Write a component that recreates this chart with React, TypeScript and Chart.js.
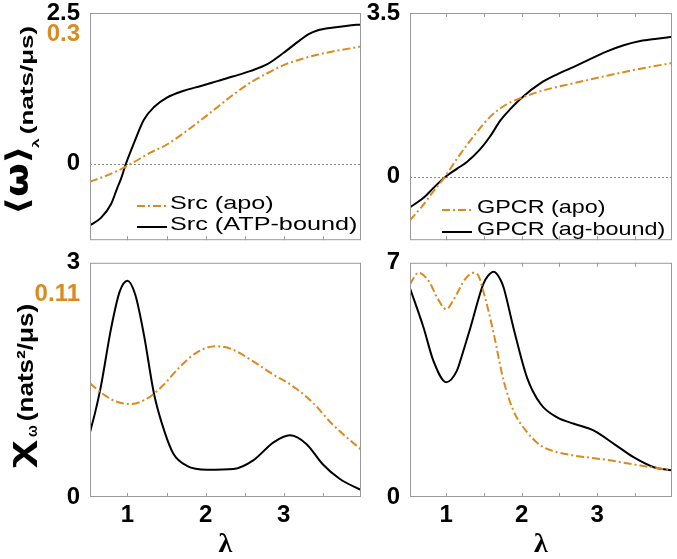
import React, { useEffect, useRef } from 'react';
import { Chart, registerables } from 'chart.js';

Chart.register(...registerables);

const ORANGE = '#DB8A1E';
const BLACK = '#000000';
const FRAME = '#9a9a9a';
const SANS = "'Liberation Sans', Arial, Helvetica, sans-serif";
const MATH = "'DejaVu Sans', 'Liberation Sans', sans-serif";
const SERIF = "'Liberation Serif', 'Times New Roman', serif";
const DASH_DOT = [8, 3, 2, 3];

// lambda axis
const LAMBDA_MIN = 0.52;
const LAMBDA_MAX = 3.99;
const xTickValues = [1, 2, 3];
const xMinorTicks = [1, 1.5, 2, 2.5, 3, 3.5];

// <omega>_lambda, Src
const srcApoMeanX = [0.52, 0.66, 0.87, 1.0, 1.3, 1.51, 1.72, 1.94, 2.15, 2.36, 2.58, 2.79, 3.0, 3.21, 3.43, 3.64, 3.99];
const srcApoMeanY = [-0.042, -0.033, -0.017, -0.005, 0.026, 0.045, 0.071, 0.101, 0.131, 0.161, 0.189, 0.21, 0.229, 0.242, 0.253, 0.261, 0.272];
const srcAtpMeanX = [0.52, 0.66, 0.79, 0.87, 0.92, 0.98, 1.085, 1.21, 1.34, 1.51, 1.72, 1.94, 2.15, 2.36, 2.58, 2.79, 3.0, 3.21, 3.32, 3.43, 3.64, 3.82, 3.99];
const srcAtpMeanY = [-1.02, -0.9, -0.67, -0.4, -0.24, 0.0, 0.35, 0.73, 0.94, 1.1, 1.21, 1.29, 1.37, 1.45, 1.54, 1.65, 1.84, 2.05, 2.15, 2.21, 2.26, 2.29, 2.31];

// <omega>_lambda, GPCR
const gpcrApoMeanX = [0.52, 0.7, 0.83, 0.97, 1.14, 1.36, 1.58, 1.8, 2.0, 2.25, 2.69, 3.13, 3.57, 3.99];
const gpcrApoMeanY = [-0.93, -0.59, -0.31, -0.03, 0.38, 0.86, 1.28, 1.55, 1.69, 1.83, 2.0, 2.16, 2.31, 2.43];
const gpcrAgMeanX = [0.52, 0.7, 0.83, 0.99, 1.14, 1.27, 1.45, 1.58, 1.72, 1.85, 2.0, 2.25, 2.47, 2.69, 2.91, 3.13, 3.35, 3.57, 3.79, 3.99];
const gpcrAgMeanY = [-0.65, -0.45, -0.24, 0.0, 0.17, 0.31, 0.59, 0.86, 1.21, 1.45, 1.69, 2.0, 2.19, 2.35, 2.52, 2.68, 2.81, 2.9, 2.95, 2.99];

// chi_omega, Src
const srcApoChiX = [0.52, 0.66, 0.83, 1.03, 1.24, 1.45, 1.66, 1.88, 2.13, 2.34, 2.6, 2.86, 3.11, 3.37, 3.62, 3.99];
const srcApoChiY = [0.0617, 0.0567, 0.0522, 0.0504, 0.0531, 0.0603, 0.0701, 0.0782, 0.0818, 0.0801, 0.0738, 0.0666, 0.0603, 0.0513, 0.0396, 0.0257];
const srcAtpChiX = [0.52, 0.59, 0.66, 0.79, 0.9, 1.0, 1.1, 1.21, 1.34, 1.47, 1.59, 1.76, 2.02, 2.36, 2.61, 2.87, 3.08, 3.29, 3.5, 3.72, 3.99];
const srcAtpChiY = [0.83, 1.1, 1.42, 2.16, 2.63, 2.77, 2.59, 2.08, 1.32, 0.85, 0.55, 0.4, 0.35, 0.36, 0.47, 0.7, 0.79, 0.68, 0.42, 0.23, 0.09];

// chi_omega, GPCR
const gpcrApoChiX = [0.52, 0.63, 0.77, 0.88, 1.0, 1.1, 1.25, 1.36, 1.43, 1.49, 1.56, 1.63, 1.76, 1.89, 2.07, 2.25, 2.47, 2.69, 3.13, 3.57, 3.99];
const gpcrApoChiY = [6.36, 6.7, 6.45, 5.96, 5.61, 5.91, 6.51, 6.7, 6.6, 6.16, 5.56, 4.87, 3.48, 2.58, 1.94, 1.54, 1.34, 1.24, 1.11, 0.94, 0.8];
const gpcrAgChiX = [0.52, 0.7, 0.83, 1.0, 1.14, 1.2, 1.32, 1.49, 1.55, 1.63, 1.715, 1.76, 1.89, 2.07, 2.25, 2.47, 2.69, 2.95, 3.22, 3.48, 3.75, 3.99];
const gpcrAgChiY = [6.24, 5.06, 4.07, 3.43, 3.77, 4.17, 5.06, 6.36, 6.6, 6.73, 6.51, 6.26, 5.06, 3.57, 2.78, 2.38, 2.19, 1.99, 1.59, 1.19, 0.89, 0.8];

// tick labels
const srcMeanTicks = [0, 2.5];
const srcMeanApoTicks = [0.3];
const gpcrMeanTicks = [0, 3.5];
const srcChiTicks = [0, 3];
const srcChiApoTicks = [0.11];
const gpcrChiTicks = [0, 7];

// Draw a text run rotated by -90deg so that its ink fills the box [xL,xR] x [yT,yB]
function drawRotatedInk(ctx: any, r: any) {
  ctx.save();
  ctx.font = r.font;
  const m = ctx.measureText(r.text);
  const bbL = m.actualBoundingBoxLeft;
  const bbR = m.actualBoundingBoxRight;
  const asc = m.actualBoundingBoxAscent;
  const desc = m.actualBoundingBoxDescent;
  ctx.rotate(-Math.PI / 2);
  const uA = -r.yB;
  const uB = -r.yT;
  ctx.translate(uA, r.xL);
  ctx.scale((uB - uA) / (bbL + bbR), (r.xR - r.xL) / (asc + desc));
  ctx.fillStyle = r.color || BLACK;
  ctx.textAlign = 'left';
  ctx.textBaseline = 'alphabetic';
  ctx.fillText(r.text, bbL, asc);
  ctx.restore();
}

function drawLegend(ctx: any, lg: any) {
  const font = `19px ${SANS}`;
  ctx.save();
  ctx.font = font;
  let maxW = 0;
  for (const it of lg.items) {
    const m = ctx.measureText(it.label);
    maxW = Math.max(maxW, m.actualBoundingBoxLeft + m.actualBoundingBoxRight);
  }
  const s = lg.textWidth / maxW;
  ctx.restore();
  lg.items.forEach((it: any, i: number) => {
    const y = lg.y + i * lg.rowH;
    ctx.save();
    ctx.strokeStyle = it.color;
    ctx.lineWidth = 2;
    ctx.setLineDash(it.dash || []);
    ctx.beginPath();
    ctx.moveTo(lg.x, y + 2);
    ctx.lineTo(lg.x + 30, y + 2);
    ctx.stroke();
    ctx.restore();
    ctx.save();
    ctx.font = font;
    const m = ctx.measureText(it.label);
    ctx.translate(lg.textX, y);
    ctx.scale(s, 1);
    ctx.fillStyle = BLACK;
    ctx.textAlign = 'left';
    ctx.textBaseline = 'middle';
    ctx.fillText(it.label, m.actualBoundingBoxLeft, 0);
    ctx.restore();
  });
}

const tickFont = { family: SANS, weight: 'bold', size: 24, lineHeight: 0.9 };

function buildConfig(p: any) {
  const datasets = p.series.map((s: any) => ({
    label: s.label,
    data: s.x.map((x: number, i: number) => ({ x, y: s.y[i] })),
    borderColor: s.color,
    backgroundColor: s.color,
    borderWidth: 2,
    borderDash: s.dash || [],
    pointRadius: 0,
    fill: false,
    cubicInterpolationMode: 'monotone',
    yAxisID: s.axis || 'y',
  }));

  // left-axis labels: black ticks of the main axis plus orange ticks of the secondary axis
  const tickValues: number[] = [];
  const tickLabels: string[] = [];
  const tickColors: string[] = [];
  for (const v of p.yTicks) {
    tickValues.push(v);
    tickLabels.push(String(v));
    tickColors.push(BLACK);
  }
  if (p.y2) {
    for (const v of p.y2.ticks) {
      tickValues.push(p.yMin + ((v - p.y2.min) / (p.y2.max - p.y2.min)) * (p.yMax - p.yMin));
      tickLabels.push(String(v));
      tickColors.push(ORANGE);
    }
  }

  const scales: any = {
    x: {
      type: 'linear',
      min: LAMBDA_MIN,
      max: LAMBDA_MAX,
      display: p.showX,
      grid: { display: false },
      border: { display: false },
      afterBuildTicks: (s: any) => { s.ticks = xTickValues.map((v) => ({ value: v })); },
      afterFit: (s: any) => { s.height = p.xHeight; },
      ticks: { color: BLACK, font: tickFont, padding: 0, maxRotation: 0, autoSkip: false, callback: (v: any) => String(v) },
      title: { display: p.showX, text: 'λ', color: BLACK, font: { family: SERIF, weight: 'bold', size: 28 }, padding: { top: 0, bottom: -3 } },
    },
    y: {
      type: 'linear',
      position: 'left',
      min: p.yMin,
      max: p.yMax,
      grid: { display: false },
      border: { display: false },
      afterBuildTicks: (s: any) => { s.ticks = tickValues.map((v) => ({ value: v })); },
      afterFit: (s: any) => { s.width = p.yWidth; },
      ticks: {
        color: (c: any) => tickColors[c.index] || BLACK,
        font: tickFont,
        padding: 2,
        autoSkip: false,
        callback: (_v: any, i: number) => tickLabels[i],
      },
    },
  };
  if (p.y2) {
    scales.y2 = {
      type: 'linear',
      position: 'right',
      display: false,
      min: p.y2.min,
      max: p.y2.max,
    };
  }

  const decor = {
    id: 'decor',
    beforeDatasetsDraw(chart: any) {
      if (!p.zeroLine) return;
      const { ctx, chartArea } = chart;
      const y0 = Math.round(chart.scales.y.getPixelForValue(0)) + 0.5;
      ctx.save();
      ctx.strokeStyle = '#8a8a8a';
      ctx.lineWidth = 1;
      ctx.setLineDash([2, 2]);
      ctx.beginPath();
      ctx.moveTo(chartArea.left, y0);
      ctx.lineTo(chartArea.right, y0);
      ctx.stroke();
      ctx.restore();
    },
    afterDraw(chart: any) {
      const { ctx, chartArea } = chart;
      const { left, right, top, bottom } = chartArea;
      ctx.save();
      ctx.strokeStyle = FRAME;
      ctx.lineWidth = 1;
      ctx.setLineDash([]);
      ctx.strokeRect(left + 0.5, top + 0.5, right - left - 1, bottom - top - 1);
      const xs = chart.scales.x;
      ctx.beginPath();
      for (const v of xMinorTicks) {
        const px = Math.round(xs.getPixelForValue(v)) + 0.5;
        ctx.moveTo(px, bottom);
        ctx.lineTo(px, bottom - 4);
        if (p.topTicks) {
          ctx.moveTo(px, top);
          ctx.lineTo(px, top + 4);
        }
      }
      ctx.stroke();
      ctx.restore();
      if (p.legend) drawLegend(ctx, p.legend);
      if (p.title) for (const r of p.title) drawRotatedInk(ctx, r);
    },
  };

  return {
    type: 'line',
    data: { datasets },
    options: {
      responsive: false,
      animation: false,
      devicePixelRatio: 1,
      layout: { padding: p.padding },
      plugins: { legend: { display: false }, tooltip: { enabled: false }, title: { display: false } },
      scales,
    },
    plugins: [decor],
  };
}

function Panel({ left, top, width, height, params }: any) {
  const ref = useRef<HTMLCanvasElement | null>(null);
  useEffect(() => {
    const chart = new Chart(ref.current as any, buildConfig(params) as any);
    return () => chart.destroy();
  }, []);
  return (
    <div style={{ position: 'absolute', left, top, width, height }}>
      <canvas ref={ref} width={width} height={height} style={{ display: 'block', width, height }} />
    </div>
  );
}

const topLeft = {
  series: [
    { label: 'Src (apo)', x: srcApoMeanX, y: srcApoMeanY, color: ORANGE, dash: DASH_DOT, axis: 'y2' },
    { label: 'Src (ATP-bound)', x: srcAtpMeanX, y: srcAtpMeanY, color: BLACK, axis: 'y' },
  ],
  yMin: -1.27, yMax: 2.5, yTicks: srcMeanTicks,
  y2: { min: -0.178, max: 0.35, ticks: srcMeanApoTicks },
  yWidth: 90,
  showX: false, xHeight: 0, zeroLine: true, topTicks: false,
  padding: { top: 13, right: 4, bottom: 6, left: 0 },
  legend: {
    x: 137, textX: 170, y: 204, rowH: 21, textWidth: 187,
    items: [
      { label: 'Src (apo)', color: ORANGE, dash: DASH_DOT },
      { label: 'Src (ATP-bound)', color: BLACK },
    ],
  },
  title: [
    { text: '⟨ω⟩', font: `bold 30px ${MATH}`, xL: 4, xR: 32, yT: 149, yB: 211 },
    { text: 'λ', font: `bold 14px ${SANS}`, xL: 32, xR: 39, yT: 138, yB: 148 },
    { text: '(nats/μs)', font: `bold 21px ${SANS}`, xL: 20, xR: 37, yT: 27, yB: 133 },
  ],
};

const topRight = {
  series: [
    { label: 'GPCR (apo)', x: gpcrApoMeanX, y: gpcrApoMeanY, color: ORANGE, dash: DASH_DOT },
    { label: 'GPCR (ag-bound)', x: gpcrAgMeanX, y: gpcrAgMeanY, color: BLACK },
  ],
  yMin: -1.355, yMax: 3.5, yTicks: gpcrMeanTicks, yWidth: 45,
  showX: false, xHeight: 0, zeroLine: true, topTicks: true,
  padding: { top: 13, right: 5, bottom: 6, left: 0 },
  legend: {
    x: 442 - 365, textX: 477 - 365, y: 208, rowH: 22, textWidth: 188,
    items: [
      { label: 'GPCR (apo)', color: ORANGE, dash: DASH_DOT },
      { label: 'GPCR (ag-bound)', color: BLACK },
    ],
  },
};

const bottomLeft = {
  series: [
    { label: 'Src (apo)', x: srcApoChiX, y: srcApoChiY, color: ORANGE, dash: DASH_DOT, axis: 'y2' },
    { label: 'Src (ATP-bound)', x: srcAtpChiX, y: srcAtpChiY, color: BLACK, axis: 'y' },
  ],
  yMin: 0, yMax: 3, yTicks: srcChiTicks,
  y2: { min: 0, max: 0.127, ticks: srcChiApoTicks },
  yWidth: 90,
  showX: true, xHeight: 62, zeroLine: false, topTicks: false,
  padding: { top: 11, right: 4, bottom: 0, left: 0 },
  title: [
    { text: 'χ', font: `bold 33px ${SANS}`, xL: 13, xR: 37, yT: 440 - 250, yB: 468 - 250 },
    { text: 'ω', font: `bold 15px ${SANS}`, xL: 28, xR: 37, yT: 425 - 250, yB: 437 - 250 },
    { text: '(nats²/μs)', font: `bold 21px ${SANS}`, xL: 17, xR: 37, yT: 305 - 250, yB: 420 - 250 },
  ],
};

const bottomRight = {
  series: [
    { label: 'GPCR (apo)', x: gpcrApoChiX, y: gpcrApoChiY, color: ORANGE, dash: DASH_DOT },
    { label: 'GPCR (ag-bound)', x: gpcrAgChiX, y: gpcrAgChiY, color: BLACK },
  ],
  yMin: 0, yMax: 7, yTicks: gpcrChiTicks, yWidth: 45,
  showX: true, xHeight: 62, zeroLine: false, topTicks: true,
  padding: { top: 11, right: 5, bottom: 0, left: 0 },
};

export default function App() {
  return (
    <div style={{ position: 'fixed', left: 0, top: 0, width: 677, height: 559, background: '#ffffff', overflow: 'hidden' }}>
      <Panel left={0} top={0} width={365} height={253} params={topLeft} />
      <Panel left={365} top={0} width={312} height={253} params={topRight} />
      <Panel left={0} top={250} width={365} height={309} params={bottomLeft} />
      <Panel left={365} top={250} width={312} height={309} params={bottomRight} />
    </div>
  );
}
